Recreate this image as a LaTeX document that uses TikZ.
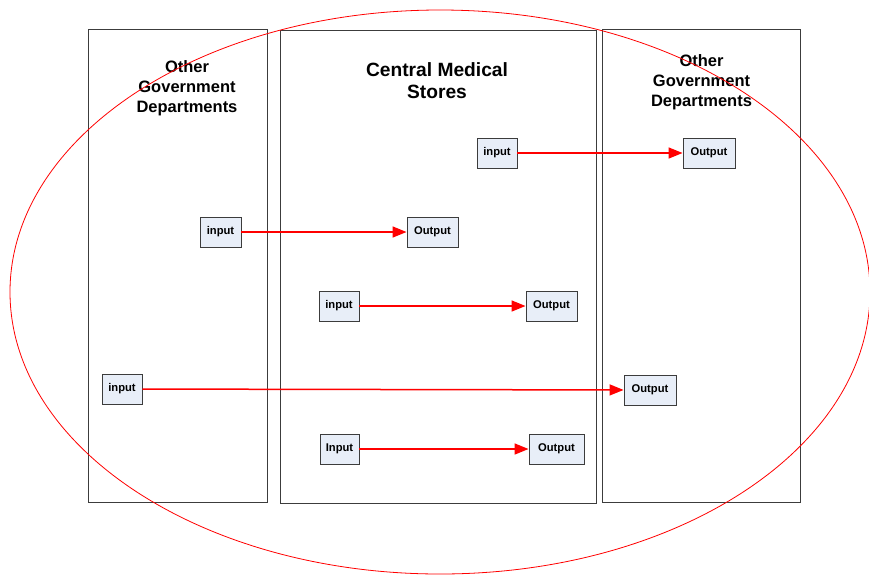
\documentclass[tikz,border=0pt]{standalone}
\usepackage{fontspec}
\setmainfont{Liberation Sans}
\usetikzlibrary{arrows.meta,positioning}
\definecolor{boxfill}{HTML}{E8EEF8}
\definecolor{boxline}{HTML}{3C3C3C}

\begin{document}
\begin{tikzpicture}[>={Triangle[length=14pt,width=11pt]},x=1pt,y=-1pt]
\tikzstyle{lane}=[draw=boxline,line width=1pt,minimum height=473pt,inner sep=0pt]
\tikzstyle{t}=[align=center,font=\fontsize{16.5}{20}\selectfont\bfseries]
\tikzstyle{b}=[draw=boxline,fill=boxfill,line width=0.9pt,minimum height=30pt,inner sep=0pt,font=\fontsize{11.2}{13}\selectfont\bfseries]
\useasboundingbox (0,0) rectangle (869,574);
\clip (0,0) rectangle (869,574);
\node[lane,minimum width=179pt] (ogd1) at (177.5,265.5) {}; \node[lane,minimum width=316pt] (cms) at (438,266.5) {}; \node[lane,minimum width=198pt] (ogd2) at (701,265.5) {};
\node[t] (t1) at (187,88) {Other\\Government\\Departments};
\node[t,font=\fontsize{19.2}{22}\selectfont\bfseries] (t2) at (437,80.5) {Central Medical\\Stores};
\node[t] (t3) at (701.5,82) {Other\\Government\\Departments};
\draw[red,line width=0.8pt] (440,292) ellipse [x radius=430pt,y radius=282pt];
\foreach \n/\x/\y/\w/\s in {in1/497/153/40/input,out1/709/153/52/Output,in2/220.5/232/41/input,out2/432.5/232/51/Output,in3/339/306/40/input,out3/551.5/306/51/Output,in4/122/389/40/input,out4/650/390/52/Output,in5/339.5/449/39/Input,out5/556.5/449/55/Output}
  \node[b,minimum width=\w pt] (\n) at (\x,\y) {\s};
\foreach \i in {1,...,5} \draw[->,red,line width=1.5pt] (in\i) -- (out\i);
\end{tikzpicture}
\end{document}
